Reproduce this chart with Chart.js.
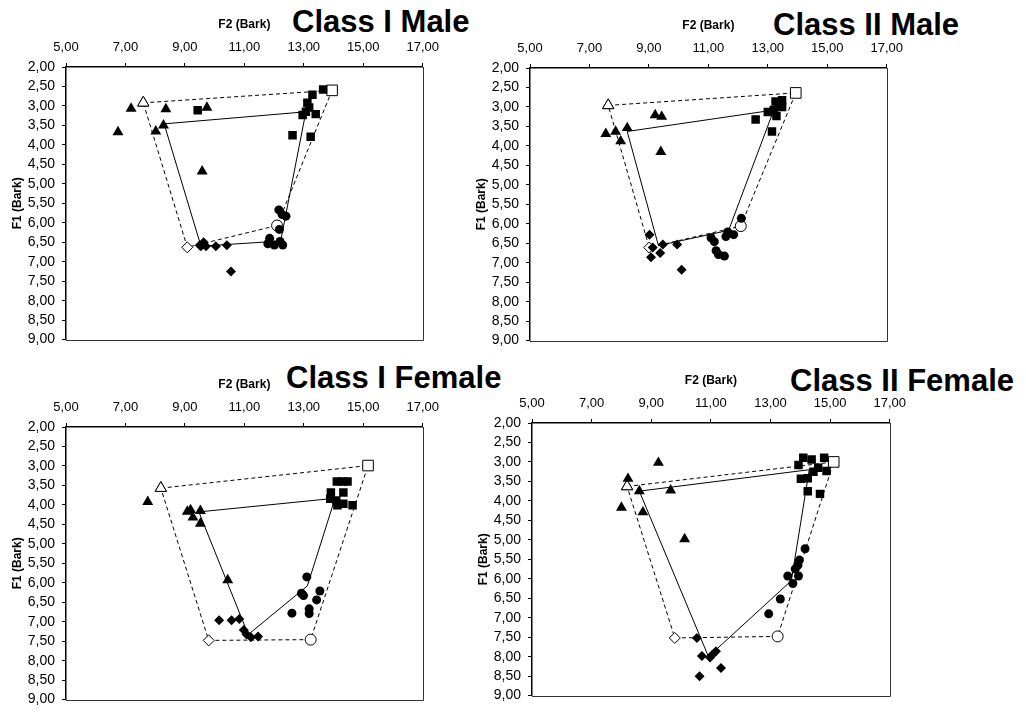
<!DOCTYPE html>
<html>
<head>
<meta charset="utf-8">
<script src="https://cdn.jsdelivr.net/npm/chart.js@4.4.0/dist/chart.umd.min.js"></script>
<style>
body{margin:0;background:#fff;width:1026px;height:716px;position:relative;overflow:hidden;font-family:"Liberation Sans",Arial,sans-serif}
canvas{position:absolute}
.ttl{position:absolute;font-weight:bold;font-size:31px;line-height:31px;white-space:nowrap;color:#000}
</style>
</head>
<body>
<div class="ttl" style="left:292px;top:6px">Class I Male</div>
<div class="ttl" style="left:773px;top:9px">Class II Male</div>
<div class="ttl" style="left:286px;top:362px">Class I Female</div>
<div class="ttl" style="left:790px;top:365px">Class II Female</div>
<canvas id="c1" width="447" height="355" style="left:0px;top:0px"></canvas>
<canvas id="c2" width="447" height="355" style="left:464px;top:1px"></canvas>
<canvas id="c3" width="447" height="355" style="left:0px;top:360px"></canvas>
<canvas id="c4" width="448" height="355" style="left:466px;top:356px"></canvas>
<script>
// axis ticks
const f2Ticks = [5, 7, 9, 11, 13, 15, 17];
const f1Ticks = [2, 2.5, 3, 3.5, 4, 4.5, 5, 5.5, 6, 6.5, 7, 7.5, 8, 8.5, 9];

// [F2, F1] pairs; order of polygons: triangle, square, circle, diamond
// Class I Male
const c1mTriangles = [[6.75,3.67],[7.19,3.07],[8.36,3.08],[8.02,3.65],[8.28,3.5],[9.58,4.68],[9.74,3.04]];
const c1mSquares = [[9.43,3.11],[13.29,2.71],[13.65,2.58],[13.12,2.92],[13.18,3.04],[12.96,3.23],[13.4,3.21],[12.62,3.75],[13.23,3.79],[13.07,3.15]];
const c1mCircles = [[12.16,5.67],[12.27,5.79],[12.4,5.83],[12.18,6.17],[11.85,6.4],[11.79,6.54],[12.01,6.57],[12.29,6.57],[12.2,6.48]];
const c1mDiamonds = [[9.5,6.58],[9.63,6.5],[9.71,6.6],[10.04,6.6],[10.41,6.58],[10.55,7.25],[9.54,6.6]];
const c1mMeans = [[8.3,3.46],[13.07,3.15],[12.22,6.47],[9.54,6.6]];
const c1mTargets = [[7.6,2.92],[13.95,2.6],[12.1,6.07],[9.08,6.63]];

// Class II Male
const c2mTriangles = [[7.55,3.69],[7.88,3.63],[8.05,3.88],[8.27,3.54],[9.21,3.21],[9.43,3.25],[9.4,4.15]];
const c2mSquares = [[12.59,3.32],[13.0,3.13],[13.26,2.86],[13.48,2.83],[13.48,3.0],[13.29,3.23],[13.14,3.63],[13.37,2.94],[13.2,3.08]];
const c2mCircles = [[12.11,5.86],[11.65,6.21],[11.59,6.33],[11.85,6.28],[11.09,6.36],[11.2,6.46],[11.26,6.69],[11.34,6.79],[11.54,6.83]];
const c2mDiamonds = [[9.02,6.28],[9.13,6.61],[9.07,6.86],[9.38,6.75],[9.47,6.53],[9.95,6.53],[10.1,7.18]];
const c2mMeans = [[8.27,3.63],[13.2,3.08],[11.68,6.17],[9.32,6.56]];
const c2mTargets = [[7.63,2.96],[13.94,2.64],[12.09,6.06],[9.01,6.61]];

// Class I Female
const c1fTriangles = [[7.75,3.92],[9.08,4.17],[9.19,4.13],[9.27,4.32],[9.52,4.15],[9.52,4.48],[10.44,5.93]];
const c1fSquares = [[14.11,3.4],[14.3,3.4],[14.47,3.4],[13.91,3.68],[14.33,3.68],[13.89,3.84],[14.09,3.89],[14.13,4.01],[14.33,3.97],[14.64,4.01]];
const c1fCircles = [[13.1,5.85],[12.92,6.27],[12.99,6.33],[13.54,6.21],[13.43,6.44],[13.18,6.67],[13.18,6.79],[12.6,6.78]];
const c1fDiamonds = [[10.15,6.96],[10.57,6.96],[10.83,6.93],[10.98,7.21],[11.07,7.32],[11.22,7.4],[11.46,7.38]];
const c1fMeans = [[9.47,4.18],[14.05,3.83],[13.12,6.08],[11.13,7.33]];
const c1fTargets = [[8.19,3.57],[15.16,2.99],[13.23,7.46],[9.8,7.48]];

// Class II Female
const c2fTriangles = [[9.24,3.02],[8.22,3.43],[8.6,3.75],[9.65,3.73],[8.0,4.17],[8.72,4.29],[10.12,4.98]];
const c2fSquares = [[14.1,2.89],[14.38,2.94],[14.8,2.89],[13.94,3.08],[14.6,3.15],[14.44,3.25],[14.88,3.23],[14.02,3.43],[14.25,3.42],[14.25,3.75],[14.66,3.82]];
const c2fCircles = [[14.16,5.23],[13.97,5.52],[13.92,5.65],[13.83,5.75],[13.94,5.93],[13.58,5.93],[13.75,6.12],[13.33,6.52],[12.94,6.9]];
const c2fDiamonds = [[10.53,7.52],[10.7,7.98],[10.97,8.02],[11.17,7.86],[11.34,8.29],[10.62,8.5],[11.05,7.95]];
const c2fMeans = [[8.6,3.75],[14.3,3.2],[13.7,6.05],[10.92,8.0]];
const c2fTargets = [[8.19,3.63],[15.12,3.0],[13.24,7.48],[9.79,7.52]];

const FONT = '"Liberation Sans", Arial, sans-serif';
Chart.defaults.font.family = FONT;
Chart.defaults.color = '#000';

const fmt = v => Number(v).toFixed(2).replace('.', ',');
const pts = a => a.map(p => ({x: p[0], y: p[1]}));
const closed = a => pts(a.concat([a[0]]));

// right + bottom edge of the plot box
const frame = {
    id: 'frame',
    beforeDatasetsDraw(chart) {
        const {ctx, chartArea: a} = chart;
        ctx.save();
        ctx.strokeStyle = '#333';
        ctx.lineWidth = 1;
        ctx.beginPath();
        ctx.moveTo(Math.round(a.right) + 0.5, a.top);
        ctx.lineTo(Math.round(a.right) + 0.5, Math.round(a.bottom) + 0.5);
        ctx.lineTo(a.left, Math.round(a.bottom) + 0.5);
        ctx.stroke();
        ctx.restore();
    }
};

const filled = (data, style, r) => ({
    data: pts(data), pointStyle: style, pointRadius: r,
    backgroundColor: '#000', borderColor: '#000', pointBorderWidth: 0, order: 1
});

const makeChart = (id, tri, sq, circ, dia, means, targets) => {
    new Chart(document.getElementById(id), {
        type: 'scatter',
        data: {
            datasets: [
                filled(tri, 'triangle', 6.3),
                filled(sq, 'rect', 6),
                filled(circ, 'circle', 4.5),
                filled(dia, 'rectRot', 5),
                {
                    data: closed(targets), showLine: true,
                    borderColor: '#000', borderWidth: 1, borderDash: [4, 3],
                    pointStyle: ['triangle', 'rect', 'circle', 'rectRot', 'triangle'],
                    pointRadius: [6.5, 7.5, 5.5, 5.5, 6.5],
                    pointBackgroundColor: '#fff', pointBorderColor: '#000', pointBorderWidth: 1,
                    order: 2
                },
                {
                    data: closed(means), showLine: true,
                    borderColor: '#000', borderWidth: 1, pointRadius: 0, order: 3
                }
            ]
        },
        options: {
            responsive: false,
            animation: false,
            events: [],
            layout: {padding: {left: 0, top: 0, right: 20, bottom: 8}},
            plugins: {legend: {display: false}, tooltip: {enabled: false}},
            scales: {
                x: {
                    type: 'linear', position: 'top', min: 5, max: 17,
                    afterBuildTicks: s => { s.ticks = f2Ticks.map(v => ({value: v})); },
                    afterFit: s => { s.height = 67; },
                    ticks: {callback: fmt, autoSkip: false, maxRotation: 0, padding: 8, font: {size: 13}},
                    grid: {display: true, drawOnChartArea: false, drawTicks: true, tickLength: 4, color: '#000'},
                    border: {display: true, color: '#000', width: 1.5},
                    title: {display: true, text: 'F2 (Bark)', font: {size: 12, weight: 'bold'}, padding: {top: 17, bottom: 0}}
                },
                y: {
                    type: 'linear', position: 'left', min: 2, max: 9, reverse: true,
                    afterBuildTicks: s => { s.ticks = f1Ticks.map(v => ({value: v})); },
                    afterFit: s => { s.width = 66; },
                    ticks: {callback: fmt, autoSkip: false, padding: 7, font: {size: 14}},
                    grid: {display: true, drawOnChartArea: false, drawTicks: true, tickLength: 4, color: '#000'},
                    border: {display: true, color: '#000', width: 1.5},
                    title: {display: true, text: 'F1 (Bark)', font: {size: 12, weight: 'bold'}, padding: {top: 10, bottom: 0}}
                }
            }
        },
        plugins: [frame]
    });
};

makeChart('c1', c1mTriangles, c1mSquares, c1mCircles, c1mDiamonds, c1mMeans, c1mTargets);
makeChart('c2', c2mTriangles, c2mSquares, c2mCircles, c2mDiamonds, c2mMeans, c2mTargets);
makeChart('c3', c1fTriangles, c1fSquares, c1fCircles, c1fDiamonds, c1fMeans, c1fTargets);
makeChart('c4', c2fTriangles, c2fSquares, c2fCircles, c2fDiamonds, c2fMeans, c2fTargets);
</script>
</body>
</html>
